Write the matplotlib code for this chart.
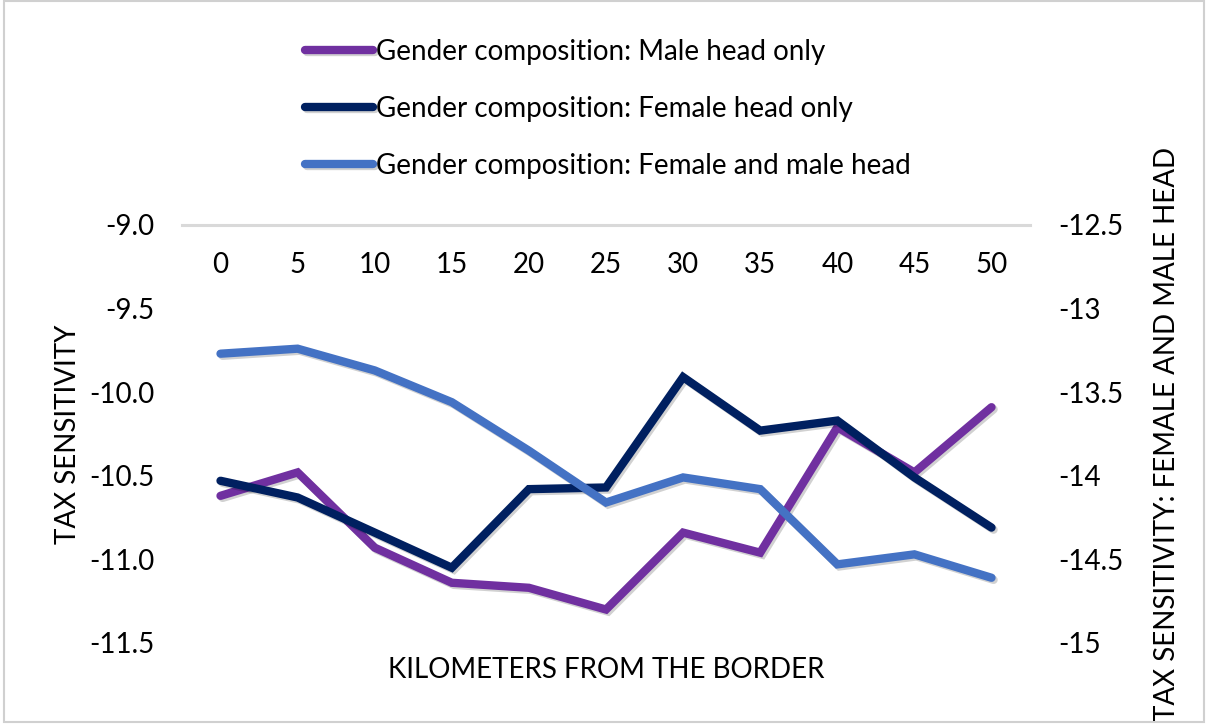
import matplotlib.pyplot as plt
import matplotlib.patheffects as pe
from matplotlib.patches import Rectangle

# ─── data ───
km = ["0", "5", "10", "15", "20", "25", "30", "35", "40", "45", "50"]
male_only = [-10.62, -10.48, -10.93, -11.14, -11.17, -11.30, -10.84, -10.96, -10.21, -10.48, -10.09]
female_only = [-10.53, -10.63, -10.84, -11.05, -10.58, -10.57, -9.91, -10.23, -10.17, -10.51, -10.81]
female_and_male = [-13.27, -13.24, -13.37, -13.56, -13.85, -14.16, -14.01, -14.08, -14.53, -14.47, -14.61]

left_ticks = [-9.0, -9.5, -10.0, -10.5, -11.0, -11.5]
right_ticks = [-12.5, -13, -13.5, -14, -14.5, -15]
right_tick_labels = ["-12.5", "-13", "-13.5", "-14", "-14.5", "-15"]

PURPLE = "#7030A0"
NAVY = "#002060"
BLUE = "#4472C4"
FS = 20

plt.rcParams["font.family"] = ["Lato", "DejaVu Sans"]

fig = plt.figure(figsize=(12.09, 7.28), dpi=100)
ax = fig.add_axes([0.1505, 0.1168, 0.7015, 0.5742])
ax2 = ax.twinx()

shadow = [pe.SimpleLineShadow(offset=(1.5, -1.5), alpha=0.18, shadow_color="black"), pe.Normal()]
x = list(range(len(km)))
l1, = ax.plot(x, male_only, color=PURPLE, lw=6, solid_capstyle="round",
              solid_joinstyle="miter", path_effects=shadow,
              label="Gender composition: Male head only")
l2, = ax.plot(x, female_only, color=NAVY, lw=6, solid_capstyle="round",
              solid_joinstyle="miter", path_effects=shadow,
              label="Gender composition: Female head only")
l3, = ax2.plot(x, female_and_male, color=BLUE, lw=6, solid_capstyle="round",
               solid_joinstyle="miter", path_effects=shadow,
               label="Gender composition: Female and male head")

ax.set_xlim(-0.5, len(km) - 0.5)
ax.set_ylim(-11.5, -9.0)
ax2.set_ylim(-15, -12.5)

# category axis sits at the top (y = -9.0), labels hang just below it
ax.set_xticks(x)
ax.set_xticklabels(km, fontsize=FS)
ax.xaxis.tick_top()
ax.tick_params(axis="x", top=False, bottom=False, labeltop=True, labelbottom=False,
               length=0, pad=-38)
ax.axhline(-9.0, color="#D9D9D9", lw=2.2, clip_on=False)

ax.set_yticks(left_ticks)
ax.set_yticklabels([f"{v:.1f}" for v in left_ticks], fontsize=FS)
ax.tick_params(axis="y", length=0, pad=20)
ax2.set_yticks(right_ticks)
ax2.set_yticklabels(right_tick_labels, fontsize=FS)
ax2.tick_params(axis="y", length=0, pad=20)

for a in (ax, ax2):
    for s in a.spines.values():
        s.set_visible(False)

ax.set_ylabel("TAX SENSITIVITY", fontsize=FS, labelpad=6)
ax2.set_ylabel("TAX SENSITIVITY: FEMALE AND MALE HEAD", fontsize=FS, labelpad=22)
ax.xaxis.set_label_position("bottom")
ax.set_xlabel("KILOMETERS FROM THE BORDER", fontsize=FS, labelpad=10)

fig.legend(handles=[l1, l2, l3], loc="upper left", bbox_to_anchor=(0.243, 0.962),
           frameon=False, fontsize=FS, handlelength=2.45, handletextpad=0.1,
           labelspacing=1.12, borderaxespad=0)

fig.patches.append(Rectangle((0.003, 0.008), 0.993, 0.99, transform=fig.transFigure,
                             fill=False, edgecolor="#D0D0D0", lw=1.5))

fig.savefig("out.png", dpi=100)
